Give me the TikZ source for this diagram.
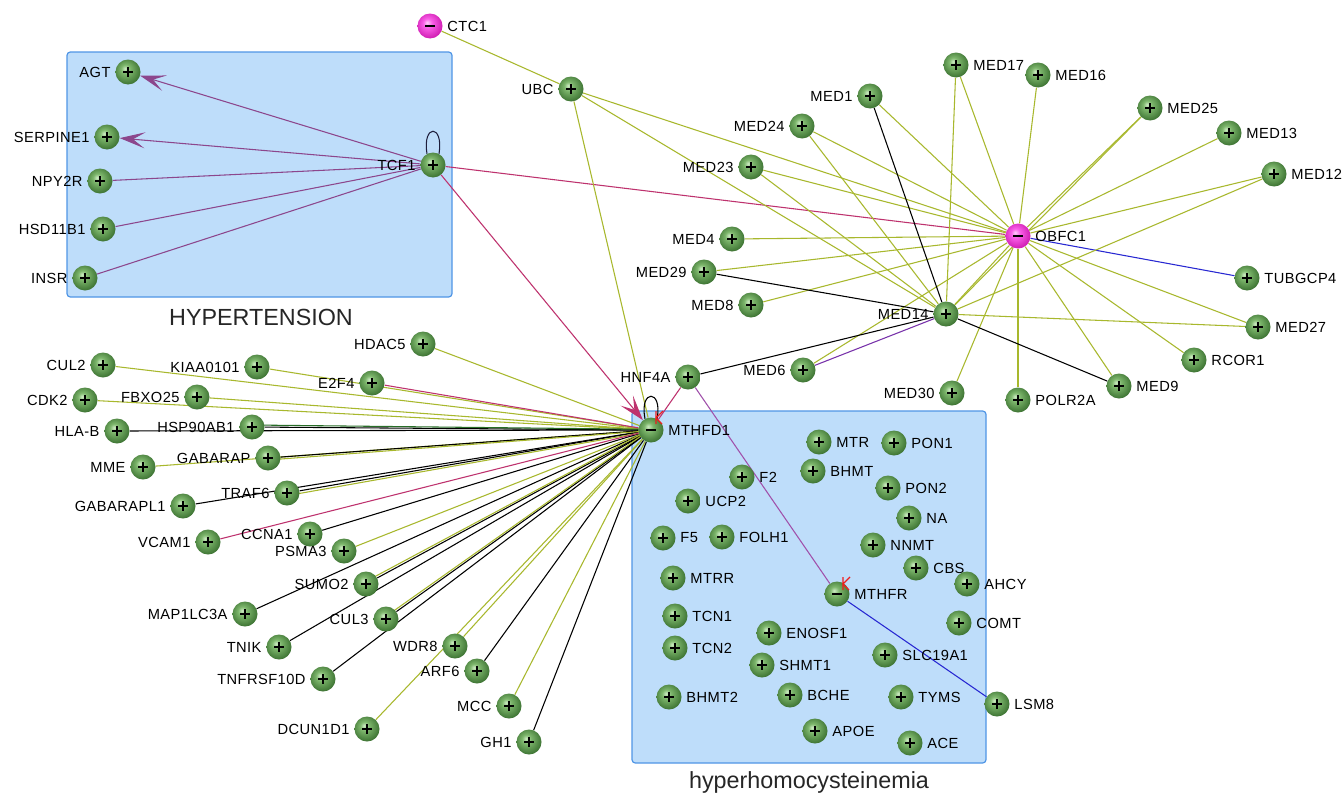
\documentclass[tikz,border=0pt]{standalone}
\usepackage{fontspec}
\setmainfont{Liberation Sans}
\newfontfamily\lblfont[LetterSpace=3]{Liberation Sans}
\usetikzlibrary{arrows.meta}
\pgfdeclarelayer{boxes}
\pgfdeclarelayer{edges}
\pgfsetlayers{boxes,edges,main}
\definecolor{olv}{RGB}{168,184,45}
\definecolor{crm}{RGB}{190,50,110}
\definecolor{prp}{RGB}{140,70,140}
\definecolor{lprp}{RGB}{160,80,170}
\definecolor{vio}{RGB}{120,50,170}
\definecolor{blu}{RGB}{40,40,210}
\definecolor{dgrn}{RGB}{40,110,40}
\definecolor{boxfill}{RGB}{190,221,250}
\definecolor{boxline}{RGB}{80,150,230}
\definecolor{ghi}{RGB}{205,235,195}
\definecolor{gmid}{RGB}{125,182,108}
\definecolor{gdark}{RGB}{58,112,48}
\definecolor{mhi}{RGB}{255,205,250}
\definecolor{mmid}{RGB}{250,95,232}
\definecolor{mdark}{RGB}{205,25,175}
\definecolor{redk}{RGB}{240,30,30}
\definecolor{loopc}{RGB}{30,30,60}
\pgfdeclareradialshading{gsphere}{\pgfpoint{-6bp}{7bp}}{color(0bp)=(ghi); color(9bp)=(gmid); color(29bp)=(gdark); color(50bp)=(gdark)}
\pgfdeclareradialshading{msphere}{\pgfpoint{-6bp}{7bp}}{color(0bp)=(mhi); color(9bp)=(mmid); color(29bp)=(mdark); color(50bp)=(mdark)}
\newcommand\gplusmark{\draw[line width=1.1pt] ([xshift=-3.6pt]path picture bounding box.center) -- ([xshift=3.6pt]path picture bounding box.center);
  \draw[line width=1.1pt] ([yshift=-3.6pt]path picture bounding box.center) -- ([yshift=3.6pt]path picture bounding box.center);}
\newcommand\gminusmark{\draw[line width=1.1pt] ([xshift=-3.6pt]path picture bounding box.center) -- ([xshift=3.6pt]path picture bounding box.center);}
\begin{document}
\begin{tikzpicture}[x=0.75pt,y=-0.75pt,
  sphere/.style={circle, minimum size=18.75pt, inner sep=0pt},
  gp/.style={sphere, shading=gsphere, path picture={\gplusmark}},
  gm/.style={sphere, shading=gsphere, path picture={\gminusmark}},
  mm/.style={sphere, shading=msphere, path picture={\gminusmark}},
  lbl/.style={font=\lblfont\fontsize{11}{13}\selectfont, text=black},
  L/.style={label={[lbl]left:#1}},
  R/.style={label={[lbl]right:#1}},
  ed/.style={line width=0.8pt},
  ol/.style={ed, olv},
  cr/.style={ed, crm},
  pu/.style={ed, prp},
  bk/.style={ed, black},
  bu/.style={ed, blu},
  bigtip/.style={-{Stealth[length=19pt,width=12pt,inset=9pt]}},
  region/.style={draw=boxline, fill=boxfill, line width=0.9pt, rounded corners=2.5pt},
  title/.style={font=\fontsize{17.5}{20}\selectfont, text=black!85}
]
\useasboundingbox (0,0) rectangle (1344,796);
\begin{pgfonlayer}{boxes}
\fill[white] (0,0) rectangle (1344,796);
\draw[region] (67,52) rectangle (452,297);
\draw[region] (632,411) rectangle (986,763);
\end{pgfonlayer}
\node[title] (hyp) at (261,317) {HYPERTENSION};
\node[title] (hhc) at (809,782) {hyperhomocysteinemia};

% hypertension
\node[gp, L=AGT] (AGT) at (128,72) {};
\node[gp, L=SERPINE1] (SERPINE1) at (107,137) {};
\node[gp, L=NPY2R] (NPY2R) at (100,181) {};
\node[gp, L=HSD11B1] (HSD11B1) at (103,229) {};
\node[gp, L=INSR] (INSR) at (85,278) {};
\node[gp, L=TCF1] (TCF1) at (433,165) {};

% top / MED cluster
\node[mm, R=CTC1] (CTC1) at (430,26) {};
\node[gp, L=UBC] (UBC) at (571,89) {};
\node[gp, L=MED1] (MED1) at (870,96) {};
\node[gp, L=MED24] (MED24) at (802,126) {};
\node[gp, L=MED23] (MED23) at (751,167) {};
\node[gp, L=MED4] (MED4) at (732,239) {};
\node[gp, L=MED29] (MED29) at (704,272) {};
\node[gp, L=MED8] (MED8) at (751,305) {};
\node[gp, R=MED17] (MED17) at (956,65) {};
\node[gp, R=MED16] (MED16) at (1038,75) {};
\node[gp, R=MED25] (MED25) at (1150,108) {};
\node[gp, R=MED13] (MED13) at (1229,133) {};
\node[gp, R=MED12] (MED12) at (1274,174) {};
\node[mm, R=OBFC1] (OBFC1) at (1018,236) {};
\node[gp, R=TUBGCP4] (TUBGCP4) at (1247,278) {};
\node[gp, L=MED14] (MED14) at (946,314) {};
\node[gp, R=MED27] (MED27) at (1258,327) {};
\node[gp, R=RCOR1] (RCOR1) at (1194,360) {};
\node[gp, R=MED9] (MED9) at (1119,386) {};
\node[gp, R=POLR2A] (POLR2A) at (1018,400) {};
\node[gp, L=MED30] (MED30) at (952,393) {};
\node[gp, L=MED6] (MED6) at (803,370) {};
\node[gp, L=HNF4A] (HNF4A) at (688,377) {};
\node[gm, R=MTHFD1] (MTHFD1) at (651,430) {};

% left cluster
\node[gp, L=HDAC5] (HDAC5) at (423,344) {};
\node[gp, L=CUL2] (CUL2) at (103,365) {};
\node[gp, L=KIAA0101] (KIAA0101) at (257,367) {};
\node[gp, L=E2F4] (E2F4) at (372,383) {};
\node[gp, L=CDK2] (CDK2) at (85,400) {};
\node[gp, L=FBXO25] (FBXO25) at (197,397) {};
\node[gp, L=HLA-B] (HLAB) at (117,431) {};
\node[gp, L=HSP90AB1] (HSP90AB1) at (252,427) {};
\node[gp, L=MME] (MME) at (143,467) {};
\node[gp, L=GABARAP] (GABARAP) at (268,458) {};
\node[gp, L=GABARAPL1] (GABARAPL1) at (183,506) {};
\node[gp, L=TRAF6] (TRAF6) at (287,493) {};
\node[gp, L=VCAM1] (VCAM1) at (208,542) {};
\node[gp, L=CCNA1] (CCNA1) at (310,534) {};
\node[gp, L=PSMA3] (PSMA3) at (344,551) {};
\node[gp, L=SUMO2] (SUMO2) at (366,584) {};
\node[gp, L=MAP1LC3A] (MAP1LC3A) at (245,614) {};
\node[gp, L=CUL3] (CUL3) at (386,619) {};
\node[gp, L=TNIK] (TNIK) at (279,647) {};
\node[gp, L=WDR8] (WDR8) at (455,646) {};
\node[gp, L=ARF6] (ARF6) at (477,671) {};
\node[gp, L=TNFRSF10D] (TNFRSF10D) at (323,679) {};
\node[gp, L=DCUN1D1] (DCUN1D1) at (367,729) {};
\node[gp, L=MCC] (MCC) at (509,706) {};
\node[gp, L=GH1] (GH1) at (529,742) {};

% hyperhomocysteinemia
\node[gp, R=MTR] (MTR) at (819,442) {};
\node[gp, R=PON1] (PON1) at (894,443) {};
\node[gp, R=BHMT] (BHMT) at (813,471) {};
\node[gp, R=F2] (F2) at (742,477) {};
\node[gp, R=PON2] (PON2) at (888,488) {};
\node[gp, R=UCP2] (UCP2) at (688,501) {};
\node[gp, R=NA] (NA) at (909,518) {};
\node[gp, R=F5] (F5) at (663,538) {};
\node[gp, R=FOLH1] (FOLH1) at (722,537) {};
\node[gp, R=NNMT] (NNMT) at (873,545) {};
\node[gp, R=CBS] (CBS) at (916,568) {};
\node[gp, R=AHCY] (AHCY) at (967,584) {};
\node[gp, R=MTRR] (MTRR) at (673,578) {};
\node[gm, R=MTHFR] (MTHFR) at (837,594) {};
\node[gp, R=TCN1] (TCN1) at (675,616) {};
\node[gp, R=COMT] (COMT) at (959,623) {};
\node[gp, R=ENOSF1] (ENOSF1) at (769,633) {};
\node[gp, R=TCN2] (TCN2) at (675,648) {};
\node[gp, R=SLC19A1] (SLC19A1) at (885,655) {};
\node[gp, R=SHMT1] (SHMT1) at (762,665) {};
\node[gp, R=BHMT2] (BHMT2) at (669,697) {};
\node[gp, R=BCHE] (BCHE) at (790,695) {};
\node[gp, R=TYMS] (TYMS) at (901,697) {};
\node[gp, R=LSM8] (LSM8) at (997,704) {};
\node[gp, R=APOE] (APOE) at (815,731) {};
\node[gp, R=ACE] (ACE) at (910,743) {};

\begin{pgfonlayer}{edges}
% hypertension
\draw[pu, bigtip] (TCF1) -- (AGT);
\draw[pu, bigtip] (TCF1) -- (SERPINE1);
\foreach \n in {NPY2R,HSD11B1,INSR} \draw[pu] (TCF1) -- (\n);
\draw[loopc, ed] (TCF1.118) .. controls +(-5,-30) and +(5,-30) .. (TCF1.62);
\draw[cr] (TCF1) -- (OBFC1);
\draw[cr, bigtip] (TCF1) -- (MTHFD1);
% UBC
\draw[ol] (CTC1) -- (UBC);
\draw[ol] (UBC) -- (MTHFD1);
\draw[ol] (UBC) -- (OBFC1);
\draw[ol] (UBC) -- (MED14);
% OBFC1 star
\foreach \n in {MED1,MED24,MED23,MED4,MED29,MED8,MED17,MED16,MED25,MED13,MED12,MED27,RCOR1,MED9,POLR2A,MED30,MED14,MED6}
  \draw[ol] (OBFC1) -- (\n);
\draw[bu] (OBFC1) -- (TUBGCP4);
% MED14
\foreach \n in {MED24,MED23,MED17,MED25,MED12,MED27}
  \draw[ol] (MED14) -- (\n);
\foreach \n in {MED1,MED29,MED9,HNF4A}
  \draw[bk] (MED14) -- (\n);
\draw[ed, vio] (MED6) -- (MED14);
% HNF4A
\draw[cr] (HNF4A) -- (MTHFD1);
\draw[ed, lprp] (HNF4A) -- (MTHFR);
\draw[bu] (MTHFR) -- (LSM8);
% MTHFD1 hub
\foreach \n in {HDAC5,CUL2,KIAA0101,CDK2,FBXO25,MME,PSMA3,WDR8,DCUN1D1,MCC}
  \draw[ol] (\n) -- (MTHFD1);
\foreach \n in {HLAB,HSP90AB1,GABARAP,GABARAPL1,CCNA1,MAP1LC3A,TNIK,TNFRSF10D,ARF6,GH1,TRAF6,SUMO2,CUL3}
  \draw[bk] (\n) -- (MTHFD1);
\draw[ed, dgrn] ([yshift=1.5pt]HSP90AB1.center) -- ([yshift=0.5pt]MTHFD1.center);
\draw[ol] ([yshift=-2pt]TRAF6.center) -- ([yshift=-0.8pt]MTHFD1.center);
\draw[ol] ([yshift=2pt]SUMO2.center) -- ([yshift=0.8pt]MTHFD1.center);
\draw[ol] ([yshift=2pt]CUL3.center) -- ([yshift=0.8pt]MTHFD1.center);
\draw[ol] ([yshift=-1.5pt]GABARAP.center) -- ([yshift=-0.5pt]MTHFD1.center);
\draw[cr] (E2F4) -- (MTHFD1);
\draw[cr] (VCAM1) -- (MTHFD1);
\draw[bk] (MTHFD1.118) .. controls +(-6,-30) and +(6,-30) .. (MTHFD1.62);
\end{pgfonlayer}
% inhibition marks
\draw[redk, line width=0.9pt] ([shift={(5,-19)}]MTHFD1.center) -- ([shift={(5,-6)}]MTHFD1.center)
  ([shift={(12,-19)}]MTHFD1.center) -- ([shift={(5,-12)}]MTHFD1.center) -- ([shift={(11,-6)}]MTHFD1.center);
\draw[redk, line width=0.9pt] ([shift={(6,-17)}]MTHFR.center) -- ([shift={(6,-4)}]MTHFR.center)
  ([shift={(13,-17)}]MTHFR.center) -- ([shift={(6,-10)}]MTHFR.center) -- ([shift={(12,-4)}]MTHFR.center);
\end{tikzpicture}
\end{document}
